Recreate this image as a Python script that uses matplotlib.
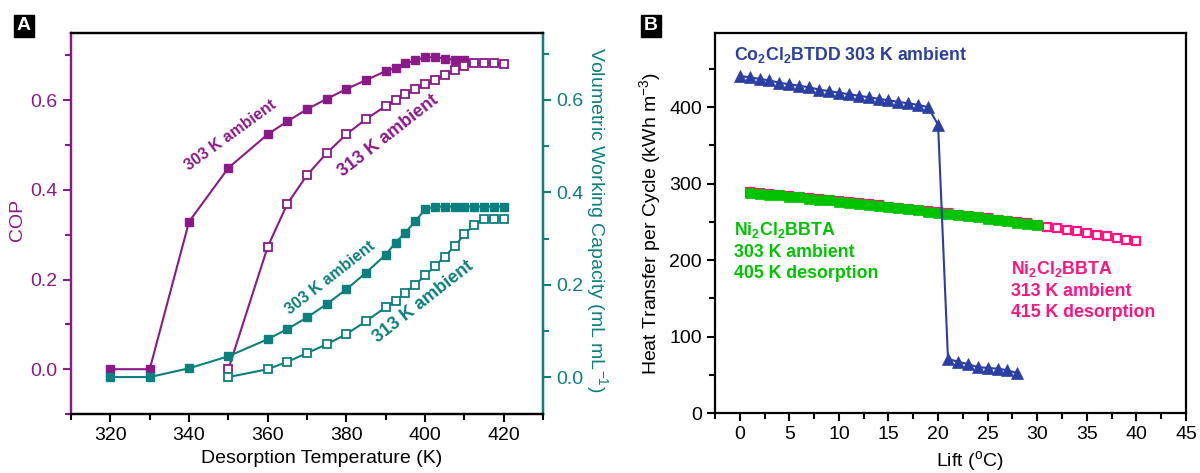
import matplotlib
matplotlib.use('Agg')
import matplotlib.pyplot as plt
from matplotlib.ticker import MultipleLocator

plt.rcParams['font.family'] = ['Liberation Sans', 'DejaVu Sans']
plt.rcParams['mathtext.fontset'] = 'custom'
plt.rcParams['mathtext.rm'] = 'Liberation Sans'
plt.rcParams['mathtext.bf'] = 'Liberation Sans:bold'
plt.rcParams['mathtext.it'] = 'Liberation Sans:italic'

# panel A : COP and volumetric working capacity vs desorption temperature
T_cop303 = [320, 330, 340, 350, 360, 365, 370, 375, 380, 385, 390, 392.5, 395,
            397.5, 400, 402.5, 405, 407.5, 410]
cop_303 = [0.0, 0.0, 0.329, 0.449, 0.524, 0.553, 0.58, 0.603, 0.625, 0.645, 0.665,
           0.672, 0.682, 0.689, 0.696, 0.696, 0.693, 0.69, 0.689]
T_313 = [350, 360, 365, 370, 375, 380, 385, 390, 392.5, 395, 397.5, 400, 402.5,
         405, 407.5, 410, 412.5, 415, 417.5, 420]
cop_313 = [0.0, 0.273, 0.369, 0.433, 0.482, 0.524, 0.558, 0.587, 0.6, 0.613, 0.624,
           0.636, 0.645, 0.656, 0.667, 0.676, 0.682, 0.684, 0.682, 0.68]
T_vwc303 = [320, 330, 340, 350, 360, 365, 370, 375, 380, 385, 390, 392.5, 395,
            397.5, 400, 402.5, 405, 407.5, 410, 412.5, 415, 417.5, 420]
vwc_303 = [0.0, 0.0, 0.019, 0.045, 0.082, 0.104, 0.129, 0.158, 0.19, 0.226, 0.265,
           0.291, 0.313, 0.337, 0.363, 0.369, 0.369, 0.369, 0.369, 0.369, 0.369,
           0.369, 0.369]
vwc_313 = [0.0, 0.017, 0.033, 0.052, 0.071, 0.093, 0.121, 0.151, 0.164, 0.183, 0.2,
           0.22, 0.24, 0.261, 0.283, 0.309, 0.33, 0.343, 0.343, 0.343]

# panel B : heat transfer per cycle vs lift
lift_co = list(range(0, 29))
heat_co = [441, 439, 437, 435, 432, 430, 428, 426, 423, 421, 419, 417, 415, 413,
           411, 409, 407, 405, 403, 400, 377, 71, 67, 64, 60, 59, 58, 56, 52]
lift_ni303 = list(range(1, 31))
heat_ni303 = [288, 287, 285.5, 284.5, 283, 282, 280.5, 279, 278, 276.5, 275, 274,
              272.5, 271, 269.5, 268, 266.5, 265, 263.5, 262, 260.5, 259, 257.5,
              256, 254, 252.5, 251, 249, 247.5, 246]
lift_ni313 = list(range(1, 41))
heat_ni313 = [288.5, 287.5, 286, 285, 283.5, 282.5, 281, 279.5, 278.5, 277, 275.5,
              274.5, 273, 271.5, 270, 268.5, 267, 265.5, 264, 262.5, 261, 259.5,
              258, 256.5, 254.5, 253, 251.5, 249.5, 248, 246.5, 243.5, 241.5, 239.5,
              237.5, 235.5, 233, 231, 229, 226.5, 224.5]

purple = '#8a1a88'
teal = '#0c7f7f'
blue = '#2b3fa3'
green = '#00c400'
pink = '#ff1480'
fs = 14

fig = plt.figure(figsize=(12, 4.73), dpi=100)

# ---------------- panel A
ax = fig.add_axes([0.0592, 0.1247, 0.3933, 0.8055])
ax2 = ax.twinx()

ax.plot(T_cop303, cop_303, '-s', color=purple, lw=1.5, ms=6, mew=1, zorder=3)
ax.plot(T_313, cop_313, '-s', color=purple, mfc='white', mec=purple, lw=1.5, ms=6,
        mew=1.3, zorder=4)
ax2.plot(T_vwc303, vwc_303, '-s', color=teal, lw=1.5, ms=6, mew=1)
ax2.plot(T_313, vwc_313, '-s', color=teal, mfc='white', mec=teal, lw=1.5, ms=6, mew=1.3)

ax.set_xlim(310, 430)
ax.set_ylim(-0.1, 0.75)
ax2.set_ylim(-0.08, 0.745)
ax.xaxis.set_major_locator(MultipleLocator(20))
ax.xaxis.set_minor_locator(MultipleLocator(10))
for a in (ax, ax2):
    a.yaxis.set_major_locator(MultipleLocator(0.2))
    a.yaxis.set_minor_locator(MultipleLocator(0.1))
    a.yaxis.set_major_formatter(plt.FormatStrFormatter('%.1f'))

ax.spines['left'].set_color(purple)
ax2.spines['left'].set_color(purple)
ax2.spines['right'].set_color(teal)
for a in (ax, ax2):
    for s in a.spines.values():
        s.set_linewidth(1.6)
ax.tick_params(axis='y', which='both', colors=purple, labelcolor=purple, labelsize=fs,
               direction='out', width=1.5)
ax.tick_params(axis='y', which='major', length=6)
ax.tick_params(axis='y', which='minor', length=4)
ax.tick_params(axis='x', which='both', direction='out', width=1.5, labelsize=fs)
ax.tick_params(axis='x', which='major', length=6)
ax.tick_params(axis='x', which='minor', length=4)
ax2.tick_params(axis='y', which='both', colors=teal, labelcolor=teal, labelsize=fs,
                direction='out', width=1.5)
ax2.tick_params(axis='y', which='major', length=6)
ax2.tick_params(axis='y', which='minor', length=4)

ax.set_xlabel('Desorption Temperature (K)', fontsize=fs)
ax.xaxis.set_label_coords(0.53, -0.095)
ax.set_ylabel('COP', fontsize=fs, color=purple)
ax.yaxis.set_label_coords(-0.095, 0.51)
fig.text(597 / 1200, 1 - 220 / 473, 'Volumetric Working Capacity (mL mL$^{-1}$)',
         rotation=270, ha='center', va='center', fontsize=fs, color=teal)

ax.text(350.6, 0.522, '303 K ambient', color=purple, fontsize=11.5, fontweight='bold',
        rotation=36, ha='center', va='center')
ax.text(390.7, 0.52, '313 K ambient', color=purple, fontsize=13, fontweight='bold',
        rotation=38, ha='center', va='center')
ax.text(376, 0.204, '303 K ambient', color=teal, fontsize=11.5, fontweight='bold',
        rotation=38, ha='center', va='center')
ax.text(399.6, 0.15, '313 K ambient', color=teal, fontsize=13, fontweight='bold',
        rotation=38, ha='center', va='center')

# ---------------- panel B
bx = fig.add_axes([0.5958, 0.1268, 0.3925, 0.8034])
bx.plot(lift_ni313, heat_ni313, '-s', color=pink, mfc='white', mec=pink, lw=1,
        ms=5.5, mew=1.6, zorder=2)
bx.plot(lift_ni303, heat_ni303, 's', color=green, mec=green, ms=7.3, mew=0.5, zorder=3)
bx.plot(lift_co, heat_co, '-^', color=blue, lw=1.5, ms=8.5, mew=0.5, zorder=4)

bx.set_xlim(-2.5, 45)
bx.set_ylim(0, 497)
bx.xaxis.set_major_locator(MultipleLocator(5))
bx.xaxis.set_minor_locator(MultipleLocator(2.5))
bx.yaxis.set_major_locator(MultipleLocator(100))
bx.yaxis.set_minor_locator(MultipleLocator(50))
for s in bx.spines.values():
    s.set_linewidth(1.6)
bx.tick_params(which='both', direction='out', width=1.5, labelsize=fs)
bx.tick_params(which='major', length=6)
bx.tick_params(which='minor', length=4)
bx.set_xlabel('Lift ($^{\\mathrm{o}}$C)', fontsize=fs)
bx.xaxis.set_label_coords(0.54, -0.095)
bx.set_ylabel('Heat Transfer per Cycle (kWh m$^{-3}$)', fontsize=fs)

bx.text(-0.6, 468, 'Co$_\\mathbf{2}$Cl$_\\mathbf{2}$BTDD 303 K ambient', color=blue,
        fontsize=12.8, fontweight='bold', va='center')
bx.text(-0.6, 212, 'Ni$_\\mathbf{2}$Cl$_\\mathbf{2}$BBTA\n303 K ambient\n405 K desorption',
        color=green, fontsize=12.8, fontweight='bold', va='center', linespacing=1.3)
bx.text(27.4, 161, 'Ni$_\\mathbf{2}$Cl$_\\mathbf{2}$BBTA\n313 K ambient\n415 K desorption',
        color=pink, fontsize=12.8, fontweight='bold', va='center', linespacing=1.3)

# panel letters
for xp, lab in ((24, 'A'), (651, 'B')):
    fig.text(xp / 1200, 1 - 26 / 473, lab, color='white', fontsize=14, fontweight='bold',
             ha='center', va='center',
             bbox=dict(boxstyle='square,pad=0.15', fc='black', ec='black'))

fig.savefig('out.png', dpi=100)
